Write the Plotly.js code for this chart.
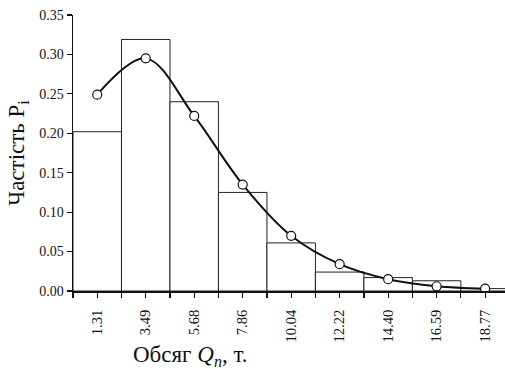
<!DOCTYPE html>
<html>
<head>
<meta charset="utf-8">
<script src="https://cdn.plot.ly/plotly-3.0.1.min.js"></script>
<style>html,body{margin:0;padding:0;background:#fff;}#chart{width:505px;height:369px;}</style>
</head>
<body>
<div id="chart"></div>
<script>
// Categories (interval midpoints, t)
const categories = ['1.31','3.49','5.68','7.86','10.04','12.22','14.40','16.59','18.77'];
// Empirical frequencies (histogram bars)
const empirical = [0.202, 0.319, 0.240, 0.125, 0.061, 0.024, 0.017, 0.013, 0.003];
// Theoretical frequencies (curve points)
const theoretical = [0.249, 0.295, 0.222, 0.135, 0.070, 0.034, 0.015, 0.006, 0.003];
const yTicks = [0, 0.05, 0.10, 0.15, 0.20, 0.25, 0.30, 0.35];

const idx = categories.map((_, i) => i);

const font = 'Liberation Serif';

const traces = [
  {
    type: 'bar', x: idx, y: empirical, width: 1,
    marker: {color: '#ffffff', line: {color: '#222', width: 1}},
    hoverinfo: 'skip', showlegend: false
  },
  {
    type: 'scatter', mode: 'lines+markers', x: idx, y: theoretical,
    line: {color: '#111', width: 2, shape: 'spline', smoothing: 1},
    marker: {symbol: 'circle', size: 9, color: '#fff', line: {color: '#111', width: 1.2}},
    showlegend: false
  }
];

const layout = {
  width: 505, height: 369,
  margin: {l: 73, r: 0, t: 15, b: 78},
  paper_bgcolor: '#fff', plot_bgcolor: '#fff',
  font: {family: font, color: '#111'},
  bargap: 0,
  xaxis: {
    range: [-0.5, 8.41], tickmode: 'array', tickvals: idx, ticktext: categories,
    tickangle: -90, ticks: 'outside', ticklen: 5, tickwidth: 1.2, tickcolor: '#111',
    ticklabelstandoff: 6,
    tickfont: {family: font, size: 14.5, color: '#111'},
    minor: {tickmode: 'linear', tick0: -0.5, dtick: 1, ticks: 'outside', ticklen: 5, tickwidth: 1.2, tickcolor: '#111', showgrid: false},
    showline: true, linecolor: '#111', linewidth: 2, showgrid: false, zeroline: false
  },
  yaxis: {
    range: [0, 0.35], tickmode: 'array', tickvals: yTicks,
    ticktext: yTicks.map(v => v.toFixed(2)),
    ticks: 'outside', ticklen: 5, tickwidth: 1.2, tickcolor: '#111',
    tickfont: {family: font, size: 14, color: '#111'},
    showline: true, linecolor: '#111', linewidth: 1.5, showgrid: false, zeroline: false,
    title: {text: 'Частість P<sub>i</sub>', font: {family: font, size: 23, color: '#111'}, standoff: 8}
  },
  annotations: [{
    xref: 'paper', yref: 'paper', x: 0.271, y: -0.235, xanchor: 'center', yanchor: 'middle',
    text: 'Обсяг <i>Q<sub>n</sub></i>, т.', showarrow: false,
    font: {family: font, size: 23, color: '#111'}
  }]
};

Plotly.newPlot('chart', traces, layout, {displayModeBar: false, staticPlot: true});
</script>
</body>
</html>
